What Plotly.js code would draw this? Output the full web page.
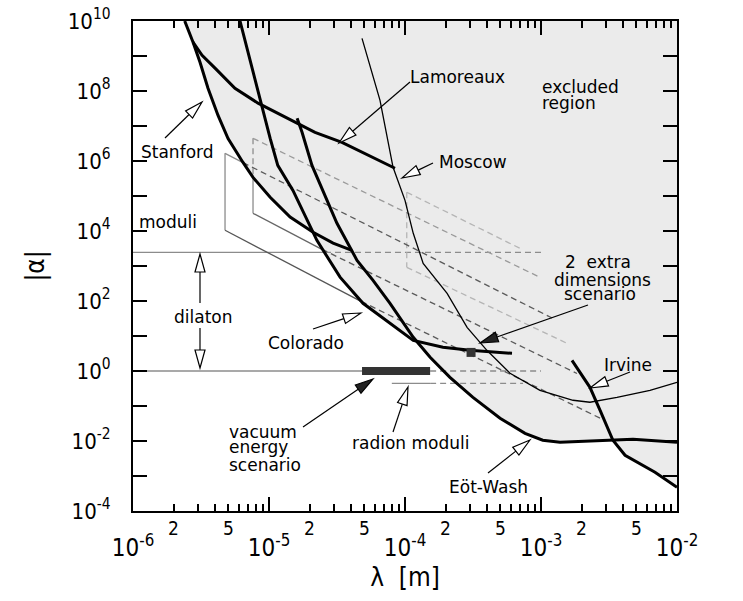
<!DOCTYPE html>
<html><head><meta charset="utf-8">
<script src="https://cdn.plot.ly/plotly-3.0.1.min.js"></script>
<style>html,body{margin:0;padding:0;background:#fff}</style>
</head><body>
<div id="plot" style="width:743px;height:601px"></div>
<script>
// ---------------- data (lambda in m, |alpha|) ----------------
const stanfordLam   = [2.4e-6, 2.76e-6, 3.11e-6, 3.56e-6, 4.22e-6, 5.0e-6, 6.44e-6, 7.63e-6, 1.02e-5, 1.43e-5, 2.11e-5, 2.96e-5, 4.07e-5];
const stanfordAlpha = [1e10, 2.5e9, 6.6e8, 1.2e8, 2.0e7, 4.4e6, 9.1e5, 3.4e5, 9.2e4, 2.5e4, 9.2e3, 4.5e3, 2.8e3];

const lamoreauxLam   = [2.76e-6, 3.22e-6, 4.01e-6, 5.62e-6, 8.3e-6, 1.31e-5, 2.18e-5, 3.44e-5, 6.0e-5, 8.44e-5];
const lamoreauxAlpha = [2.5e9, 1.05e9, 4.5e8, 1.2e8, 4.5e7, 1.8e7, 6.6e6, 3.4e6, 1.2e6, 6.2e5];

const coloradoLam   = [6.12e-6, 6.89e-6, 7.89e-6, 8.88e-6, 1.02e-5, 1.16e-5, 1.5e-5, 2.25e-5, 3.33e-5, 4.91e-5, 7.76e-5, 1.15e-4, 1.9e-4, 3.0e-4, 6.12e-4];
const coloradoAlpha = [1e10, 1.66e9, 1.78e8, 3.2e7, 4.4e6, 7.5e5, 1.45e5, 5.4e3, 4.8e2, 86, 23, 7.5, 4.75, 3.9, 3.2];

const eotWashLam   = [1.61e-5, 1.75e-5, 2.07e-5, 2.37e-5, 3.16e-5, 4.44e-5, 5.82e-5, 7.76e-5, 1.15e-4, 1.53e-4, 2.14e-4, 3.16e-4, 5.0e-4, 7.63e-4, 1.03e-3, 1.38e-3, 2.72e-3, 4.75e-3, 1e-2];
const eotWashAlpha = [1.66e7, 6.6e6, 7.5e5, 2.3e5, 1.66e4, 1.45e3, 3.9e2, 86, 9.2, 2.46, 0.66, 0.177, 0.0445, 0.0166, 0.0105, 0.0092, 0.0105, 0.0112, 0.0092];

const irvineLam   = [1.69e-3, 2.29e-3, 2.72e-3, 3.38e-3, 4.15e-3, 5.08e-3, 6.89e-3, 1e-2];
const irvineAlpha = [2.02, 0.342, 0.075, 0.0105, 3.9e-3, 2.46e-3, 1.28e-3, 4.75e-4];

const moscowLam   = [4.83e-5, 6.55e-5, 8.17e-5, 1.0e-4, 1.15e-4, 1.36e-4, 2.04e-4, 2.86e-4, 4.0e-4, 5.92e-4, 9.83e-4, 1.72e-3, 2.29e-3, 3.62e-3, 6.33e-3, 1e-2];
const moscowAlpha = [3.2e9, 5.4e7, 6.6e5, 7.5e4, 8.6e3, 1.19e3, 166, 17.7, 3.9, 0.86, 0.281, 0.146, 0.128, 0.177, 0.281, 0.475];

// lower boundary of the excluded (shaded) region
const excludedLam   = [2.4e-6, 2.76e-6, 3.11e-6, 3.56e-6, 4.22e-6, 5.0e-6, 6.44e-6, 7.63e-6, 1.02e-5, 1.43e-5, 2.14e-5, 2.25e-5, 3.33e-5, 4.91e-5, 7.76e-5, 1.19e-4, 1.53e-4, 2.14e-4, 3.16e-4, 5.0e-4, 7.63e-4, 1.03e-3, 1.38e-3, 2.72e-3, 3.38e-3, 4.15e-3, 5.08e-3, 6.89e-3, 1e-2, 1e-2];
const excludedAlpha = [1e10, 2.5e9, 6.6e8, 1.2e8, 2.0e7, 4.4e6, 9.1e5, 3.4e5, 9.2e4, 2.5e4, 8.6e3, 5.4e3, 4.8e2, 86, 23, 7.2, 2.46, 0.66, 0.177, 0.0445, 0.0166, 0.0105, 0.0092, 0.0105, 0.0105, 3.9e-3, 2.46e-3, 1.28e-3, 4.75e-4, 1e10];

// theory predictions
const moduliLevel = 2.46e3;
const moduliSolidLam = [1e-6, 2.58e-5];
const moduliDashLam  = [2.58e-5, 1.02e-3];
const unityLevel = 1;
const unitySolidLam = [1e-6, 4.83e-5];
const vacuumBarLam  = [4.83e-5, 1.53e-4];
const unityDashLam  = [1.53e-4, 1.0e-3];
const radionLevel = 0.445;
const radionSolidLam = [8.0e-5, 1.53e-4];
const radionDashLam  = [1.53e-4, 7.38e-4];

const outerBoxLam = [4.75e-6, 4.75e-6],  outerBoxAlpha = [1.66e6, 1.05e4];
const innerBoxLam = [7.63e-6, 7.63e-6];
const innerBoxDashAlpha = [4.45e6, 3.4e5], innerBoxSolidAlpha = [3.4e5, 3.2e4];
const lightBoxLam = [1.03e-4, 1.03e-4],  lightBoxAlpha = [1.28e5, 918];

const diag1Lam = [4.75e-6, 6.44e-6, 1.22e-3], diag1Alpha = [1.66e6, 9.0e5, 32];
const diag2Lam = [7.63e-6, 9.83e-4],          diag2Alpha = [4.45e6, 475];
const diag3Lam = [7.63e-6, 2.45e-5, 1.84e-3], diag3Alpha = [3.2e4, 3.0e3, 0.85];
const diag4Lam = [4.75e-6, 4.75e-5, 2.72e-3], diag4Alpha = [1.05e4, 98, 0.045];
const diag5Lam = [1.03e-4, 7.0e-4],           diag5Alpha = [1.28e5, 3.2e3];
const diag6Lam = [1.03e-4, 1.55e-3],          diag6Alpha = [918, 6.2];

const extraDimPointLam = [3.06e-4], extraDimPointAlpha = [3.4];

// axis ticks
const xMajorVals = [1e-6, 1e-5, 1e-4, 1e-3, 1e-2];
const xMajorText = ['10<sup>-6</sup>', '10<sup>-5</sup>', '10<sup>-4</sup>', '10<sup>-3</sup>', '10<sup>-2</sup>'];
const xMinorLabelVals = [2e-6, 5e-6, 2e-5, 5e-5, 2e-4, 5e-4, 2e-3, 5e-3];
const xMinorLabelText = ['2', '5', '2', '5', '2', '5', '2', '5'];
const yTickExp = [-4,-3,-2,-1,0,1,2,3,4,5,6,7,8,9,10];

// ---------------- build ----------------
const xMinorTicks = [];
for (let d = -6; d < -2; d++) for (let m = 2; m <= 9; m++) xMinorTicks.push(m * Math.pow(10, d));
const yTickVals = yTickExp.map(e => Math.pow(10, e));
const yTickText = yTickExp.map(e => (e % 2 === 0) ? '10<sup>' + e + '</sup>' : '');

function ln(x, y, color, width, dash) {
  return {x: x, y: y, type: 'scatter', mode: 'lines', hoverinfo: 'skip', showlegend: false,
          line: {color: color, width: width, dash: dash || 'solid'}};
}
const DASH = '6px,4px';
const G = '#8c8c8c', GD = '#5a5a5a', GL = '#b5b5b5';

const traces = [
  {x: excludedLam, y: excludedAlpha, type: 'scatter', mode: 'lines', fill: 'toself',
   fillcolor: '#ebebeb', line: {width: 0, color: '#ebebeb'}, hoverinfo: 'skip', showlegend: false},
  ln(moduliSolidLam, [moduliLevel, moduliLevel], G, 1.3),
  ln(moduliDashLam, [moduliLevel, moduliLevel], G, 1.3, DASH),
  ln(unitySolidLam, [unityLevel, unityLevel], G, 1.3),
  ln(unityDashLam, [unityLevel, unityLevel], G, 1.3, DASH),
  ln(radionSolidLam, [radionLevel, radionLevel], G, 1.3),
  ln(radionDashLam, [radionLevel, radionLevel], G, 1.3, DASH),
  ln(outerBoxLam, outerBoxAlpha, G, 1.3),
  ln(innerBoxLam, innerBoxDashAlpha, G, 1.3, DASH),
  ln(innerBoxLam, innerBoxSolidAlpha, G, 1.3),
  ln(lightBoxLam, lightBoxAlpha, GL, 1.3, DASH),
  ln(diag1Lam.slice(0, 2), diag1Alpha.slice(0, 2), G, 1.3),
  ln(diag1Lam.slice(1), diag1Alpha.slice(1), GD, 1.3, DASH),
  ln(diag2Lam, diag2Alpha, '#9a9a9a', 1.3, DASH),
  ln(diag3Lam.slice(0, 2), diag3Alpha.slice(0, 2), '#666', 1.3),
  ln(diag3Lam.slice(1), diag3Alpha.slice(1), GD, 1.3, DASH),
  ln(diag4Lam.slice(0, 2), diag4Alpha.slice(0, 2), '#555', 1.3),
  ln(diag4Lam.slice(1), diag4Alpha.slice(1), GD, 1.3, DASH),
  ln(diag5Lam, diag5Alpha, GL, 1.3, DASH),
  ln(diag6Lam, diag6Alpha, GL, 1.3, DASH),
  ln(moscowLam, moscowAlpha, '#000', 1.3),
  ln(stanfordLam, stanfordAlpha, '#000', 3),
  ln(lamoreauxLam, lamoreauxAlpha, '#000', 3),
  ln(coloradoLam, coloradoAlpha, '#000', 3),
  ln(eotWashLam, eotWashAlpha, '#000', 3),
  ln(irvineLam, irvineAlpha, '#000', 3),
  ln(vacuumBarLam, [unityLevel, unityLevel], '#333', 8),
  {x: extraDimPointLam, y: extraDimPointAlpha, type: 'scatter', mode: 'markers', hoverinfo: 'skip', showlegend: false,
   marker: {symbol: 'square', size: 9, color: '#333'}}
];

// ---------------- annotations (positions in page pixels of the plot frame) ----------------
const PL = 133, PT = 21, PW = 544, PH = 490;
const px = v => (v - PL) / PW, py = v => (PT + PH - v) / PH;
const TF = {family: 'DejaVu Sans, Verdana, sans-serif', size: 17, color: '#000'};

const labels = [
  ['Lamoreaux', 408, 76.5, 'left'], ['excluded', 540, 86.5, 'left'], ['region', 540, 102.5, 'left'],
  ['Stanford', 177, 151.5, 'center'], ['moduli', 137, 221.5, 'left'], ['Moscow', 437, 161.5, 'left'],
  ['2  extra', 598, 261.5, 'center'], ['dimensions', 602, 279.5, 'center'], ['scenario', 600, 294.5, 'center'],
  ['Colorado', 306, 342.5, 'center'], ['Irvine', 628, 364.5, 'center'],
  ['vacuum', 227, 431.5, 'left'], ['energy', 227, 446.5, 'left'], ['scenario', 227, 464.5, 'left'],
  ['radion moduli', 350, 442.5, 'left'], ['Eöt-Wash', 488, 486.5, 'center']
];
const annotations = labels.map(l => ({text: l[0], xref: 'paper', yref: 'paper', x: px(l[1]), y: py(l[2]),
  xanchor: l[3], yanchor: 'middle', showarrow: false, font: TF}));
annotations.push({text: 'dilaton', xref: 'paper', yref: 'paper', x: px(203), y: py(316.5), xanchor: 'center',
  yanchor: 'middle', showarrow: false, font: TF});

// arrows: [tipX, tipY, tailX, tailY, filled]  (page pixels)
const arrows = [
  [202, 102, 165, 138, false], [339, 143, 410, 82, false], [402, 178, 433, 163, false],
  [361, 313, 313, 329, false], [200, 254, 200, 303, false], [200, 368, 200, 328, false],
  [408, 387, 393, 432, false], [530, 440, 488, 473, false], [590, 388, 630, 372, false],
  [480, 343, 588, 305, true], [373, 379, 303, 427, true]
];
const HL = 18, HW = 5;
const shapes = [];
arrows.forEach(a => {
  const dx = a[2] - a[0], dy = a[3] - a[1], L = Math.hypot(dx, dy);
  const ux = dx / L, uy = dy / L;
  const bx = a[0] + ux * HL, by = a[1] + uy * HL;
  const c1x = bx - uy * HW, c1y = by + ux * HW, c2x = bx + uy * HW, c2y = by - ux * HW;
  shapes.push({type: 'line', xref: 'paper', yref: 'paper', x0: px(a[2]), y0: py(a[3]), x1: px(bx), y1: py(by),
    line: {color: '#000', width: 1.2}, layer: 'above'});
  shapes.push({type: 'path', xref: 'paper', yref: 'paper',
    path: 'M' + px(a[0]) + ',' + py(a[1]) + 'L' + px(c1x) + ',' + py(c1y) + 'L' + px(c2x) + ',' + py(c2y) + 'Z',
    fillcolor: a[4] ? '#222' : '#fff', line: {color: '#000', width: 1.2}, layer: 'above'});
});

// minor "2", "5" labels under the x axis
const TICKF = 'Liberation Sans Narrow, Arial Narrow, DejaVu Sans Condensed, sans-serif';
xMinorLabelVals.forEach((v, i) => annotations.push({text: xMinorLabelText[i], xref: 'x', yref: 'paper',
  x: Math.log10(v), y: py(528), xanchor: 'center', yanchor: 'middle', showarrow: false,
  font: {family: TICKF, size: 19, color: '#000'}}));

const layout = {
  width: 743, height: 601, paper_bgcolor: '#fff', plot_bgcolor: '#fff',
  margin: {l: PL, r: 743 - PL - PW, t: PT, b: 601 - PT - PH},
  showlegend: false,
  xaxis: {type: 'log', range: [-6, -2], tickmode: 'array', tickvals: xMajorVals, ticktext: xMajorText,
    ticks: 'inside', ticklen: 14, tickwidth: 2, tickcolor: '#000', showline: true, linewidth: 2, linecolor: '#000',
    mirror: 'ticks', showgrid: false, zeroline: false, ticklabelstandoff: 14,
    tickfont: {family: TICKF, size: 24, color: '#000'},
    minor: {tickmode: 'array', tickvals: xMinorTicks, ticks: 'inside', ticklen: 7, tickwidth: 1.5, tickcolor: '#000', showgrid: false},
    title: {text: 'λ  [m]', font: {family: TICKF, size: 26, color: '#000'}, standoff: 6}},
  yaxis: {type: 'log', range: [-4, 10], tickmode: 'array', tickvals: yTickVals, ticktext: yTickText,
    ticks: 'inside', ticklen: 14, tickwidth: 2, tickcolor: '#000', showline: true, linewidth: 2, linecolor: '#000',
    mirror: 'ticks', showgrid: false, zeroline: false, ticklabelstandoff: 16,
    tickfont: {family: TICKF, size: 22, color: '#000'},
    title: {text: '|α|', font: {family: TICKF, size: 26, color: '#000'}, standoff: 16}},
  annotations: annotations,
  shapes: shapes
};

Plotly.newPlot('plot', traces, layout, {staticPlot: true, displayModeBar: false});
</script>
</body></html>
